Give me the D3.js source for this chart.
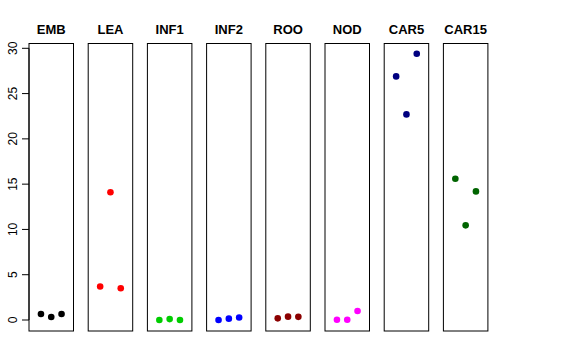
<!DOCTYPE html>
<html>
<head>
<meta charset="utf-8">
<script src="https://cdn.jsdelivr.net/npm/d3@7"></script>
<style>
  body { margin: 0; background: #fff; }
  text { font-family: "Liberation Sans", Arial, sans-serif; }
</style>
</head>
<body>
<svg id="chart" width="576" height="360"></svg>
<script>
// data
const groups = ['EMB', 'LEA', 'INF1', 'INF2', 'ROO', 'NOD', 'CAR5', 'CAR15']
const colors = ['#000000', '#ff0000', '#00cd00', '#0000ff', '#8b0000', '#ff00ff', '#000080', '#006400']
const values = [
  [0.66, 0.33, 0.66],
  [3.7, 14.1, 3.5],
  [0.0, 0.1, 0.0],
  [0.0, 0.15, 0.28],
  [0.18, 0.37, 0.35],
  [0.03, 0.03, 1.0],
  [26.9, 22.7, 29.4],
  [15.6, 10.45, 14.2]
]
const yTicks = [0, 5, 10, 15, 20, 25, 30]

const svg = d3.select('#chart')
const panelTop = 43.5
const panelBottom = 331
const panelW = 44.5
const panelStep = 59.2
const x0 = 29

const y = d3.scaleLinear().domain([0, 30]).range([320, 48.3])
// x positions 1..3 in [0,4] with R style 4% padding
const x = d3.scaleLinear().domain([-0.16, 4.16]).range([0, panelW])

// y axis
const yAxis = svg.append('g')
yAxis.selectAll('line')
  .data(yTicks)
  .enter()
  .append('line')
  .attr('x1', x0 - 7)
  .attr('x2', x0)
  .attr('y1', d => y(d))
  .attr('y2', d => y(d))
  .attr('stroke', '#000')
yAxis.append('line')
  .attr('x1', x0).attr('x2', x0)
  .attr('y1', y(0)).attr('y2', y(30))
  .attr('stroke', '#000')
yAxis.selectAll('text')
  .data(yTicks)
  .enter()
  .append('text')
  .attr('transform', d => `translate(17,${y(d)}) rotate(-90)`)
  .attr('text-anchor', 'middle')
  .style('font-size', '12px')
  .text(d => d)

const panels = svg.selectAll('g.panel')
  .data(groups)
  .enter()
  .append('g')
  .attr('class', 'panel')
  .attr('transform', (d, i) => `translate(${x0 + i * panelStep},0)`)

panels.append('rect')
  .attr('x', 0)
  .attr('y', panelTop)
  .attr('width', panelW)
  .attr('height', panelBottom - panelTop)
  .attr('fill', 'none')
  .attr('stroke', '#000')

panels.append('text')
  .attr('x', panelW / 2)
  .attr('y', 34)
  .attr('text-anchor', 'middle')
  .style('font-size', '13px')
  .style('font-weight', 'bold')
  .text(d => d)

panels.each(function (d, i) {
  d3.select(this).selectAll('circle')
    .data(values[i])
    .enter()
    .append('circle')
    .attr('cx', (v, j) => x(j + 1))
    .attr('cy', v => y(v))
    .attr('r', 3.3)
    .attr('fill', colors[i])
})
</script>
</body>
</html>
